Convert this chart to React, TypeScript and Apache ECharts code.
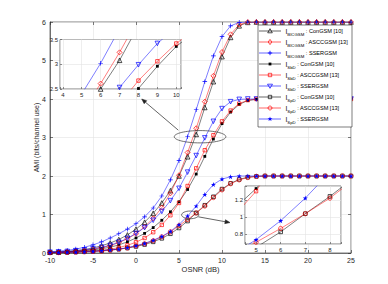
import React, { useEffect, useRef } from 'react';
import * as echarts from 'echarts';

const OSNR = [-10, -9, -8, -7, -6, -5, -4, -3, -2, -1, 0, 1, 2, 3, 4, 5, 6, 7, 8, 9, 10, 11, 12, 13, 14, 15, 16, 17, 18, 19, 20, 21, 22, 23, 24, 25];

// I_BICGSM
const BICGSM_CON = [0.02, 0.03, 0.04, 0.06, 0.09, 0.13, 0.19, 0.26, 0.35, 0.47, 0.62, 0.8, 1.03, 1.3, 1.62, 2.0, 2.5, 3.08, 3.78, 4.45, 5.1, 5.6, 5.9, 5.99, 6, 6, 6, 6, 6, 6, 6, 6, 6, 6, 6, 6];
const BICGSM_ASC = [0.01, 0.02, 0.03, 0.05, 0.07, 0.1, 0.14, 0.19, 0.27, 0.37, 0.5, 0.68, 0.9, 1.18, 1.55, 2.02, 2.61, 3.24, 3.93, 4.6, 5.22, 5.68, 5.93, 6, 6, 6, 6, 6, 6, 6, 6, 6, 6, 6, 6, 6];
const BICGSM_SSE = [0.03, 0.05, 0.07, 0.1, 0.15, 0.21, 0.29, 0.39, 0.5, 0.62, 0.76, 0.94, 1.17, 1.48, 1.9, 2.4, 3.02, 3.72, 4.45, 5.12, 5.62, 5.9, 5.99, 6, 6, 6, 6, 6, 6, 6, 6, 6, 6, 6, 6, 6];
// I_SbD
const SBD_CON = [0.01, 0.02, 0.03, 0.04, 0.06, 0.08, 0.11, 0.15, 0.21, 0.29, 0.39, 0.51, 0.66, 0.85, 1.07, 1.33, 1.65, 2.05, 2.51, 2.96, 3.36, 3.66, 3.86, 3.96, 3.99, 4, 4, 4, 4, 4, 4, 4, 4, 4, 4, 4];
const SBD_ASC = [0.01, 0.01, 0.02, 0.03, 0.04, 0.05, 0.07, 0.1, 0.14, 0.2, 0.28, 0.39, 0.54, 0.73, 0.98, 1.3, 1.74, 2.2, 2.67, 3.06, 3.42, 3.7, 3.88, 3.97, 4, 4, 4, 4, 4, 4, 4, 4, 4, 4, 4, 4];
const SBD_SSE = [0.02, 0.03, 0.04, 0.06, 0.08, 0.11, 0.15, 0.2, 0.28, 0.38, 0.51, 0.66, 0.85, 1.08, 1.36, 1.68, 2.1, 2.53, 2.99, 3.42, 3.75, 3.93, 3.99, 4, 4, 4, 4, 4, 4, 4, 4, 4, 4, 4, 4, 4];
// I_SpD
const SPD_CON = [0.01, 0.01, 0.02, 0.03, 0.04, 0.05, 0.06, 0.08, 0.1, 0.13, 0.17, 0.22, 0.29, 0.38, 0.5, 0.65, 0.83, 1.04, 1.24, 1.46, 1.66, 1.81, 1.91, 1.97, 1.99, 2, 2, 2, 2, 2, 2, 2, 2, 2, 2, 2];
const SPD_ASC = [0.01, 0.01, 0.02, 0.02, 0.03, 0.04, 0.05, 0.07, 0.1, 0.13, 0.18, 0.24, 0.32, 0.42, 0.55, 0.71, 0.87, 1.04, 1.22, 1.44, 1.64, 1.8, 1.9, 1.96, 1.99, 2, 2, 2, 2, 2, 2, 2, 2, 2, 2, 2];
const SPD_SSE = [0.01, 0.01, 0.02, 0.02, 0.03, 0.04, 0.06, 0.08, 0.1, 0.14, 0.19, 0.25, 0.33, 0.43, 0.56, 0.74, 0.96, 1.22, 1.52, 1.78, 1.92, 1.98, 2, 2, 2, 2, 2, 2, 2, 2, 2, 2, 2, 2, 2, 2];

const SUBS = ['BICGSM', 'BICGSM', 'BICGSM', 'SbD', 'SbD', 'SbD', 'SpD', 'SpD', 'SpD'];
const SCHEMES = ['ConGSM [10]', 'ASCCGSM [13]', 'SSERGSM', 'ConGSM [10]', 'ASCCGSM [13]', 'SSERGSM', 'ConGSM [10]', 'ASCCGSM [13]', 'SSERGSM'];
const SERIES_VALUES = [BICGSM_CON, BICGSM_ASC, BICGSM_SSE, SBD_CON, SBD_ASC, SBD_SSE, SPD_CON, SPD_ASC, SPD_SSE];

const X_TICKS = { min: -10, max: 25, interval: 5 };
const Y_TICKS = { min: 0, max: 6, interval: 1 };

const BLACK = '#000000';
const RED = '#ff0000';
const BLUE = '#0000ff';
const FONT = 'Liberation Sans, Arial, sans-serif';
const TXT = '#262626';
const CLEAR = 'rgba(255,255,255,0)';

const PLUS = 'path://M4.3,0 h1.4 v4.3 h4.3 v1.4 h-4.3 v4.3 h-1.4 v-4.3 h-4.3 v-1.4 h4.3 z';
const STAR = 'path://M5,0 L6.18,3.82 L10,3.82 L6.91,6.18 L8.09,10 L5,7.64 L1.91,10 L3.09,6.18 L0,3.82 L3.82,3.82 Z';

// fill: marker interior colour ('line' = same as line colour)
const STYLES = [
  { color: BLACK, symbol: 'triangle', size: 4.6, rotate: 0, filled: false, kind: 'tri' },
  { color: RED, symbol: 'diamond', size: 5, rotate: 0, filled: false, kind: 'diamond' },
  { color: BLUE, symbol: PLUS, size: 4.6, rotate: 0, filled: true, kind: 'plus' },
  { color: BLACK, symbol: 'rect', size: 2.8, rotate: 0, filled: true, kind: 'fillsq' },
  { color: RED, symbol: 'rect', size: 3.4, rotate: 0, filled: false, kind: 'sq' },
  { color: BLUE, symbol: 'triangle', size: 4.6, rotate: 180, filled: false, kind: 'tridown' },
  { color: BLACK, symbol: 'rect', size: 3.6, rotate: 0, filled: false, kind: 'sq' },
  { color: RED, symbol: 'circle', size: 4.2, rotate: 0, filled: false, kind: 'circle' },
  { color: BLUE, symbol: STAR, size: 5, rotate: 0, filled: true, kind: 'star' },
];

const names = SUBS.map((s, i) => `I_${s}: ${SCHEMES[i]}`);

function buildSeries(axisIndex: number, z: number) {
  return SERIES_VALUES.map((vals, i) => {
    const st = STYLES[i];
    return {
      type: 'line',
      name: names[i],
      xAxisIndex: axisIndex,
      yAxisIndex: axisIndex,
      data: OSNR.map((x, k) => [x, vals[k]]),
      symbol: st.symbol,
      symbolSize: st.size,
      symbolRotate: st.rotate,
      showAllSymbol: true,
      clip: true,
      z,
      silent: true,
      lineStyle: { color: st.color, width: 0.6, opacity: 0.85 },
      itemStyle: st.filled
        ? { color: st.color, borderWidth: 0 }
        : { color: CLEAR, borderColor: st.color, borderWidth: 0.7 },
      emphasis: { disabled: true },
    };
  });
}

const intFmt = (v: number) => (Math.abs(v - Math.round(v)) < 1e-6 ? String(Math.round(v)) : '');
const fifthFmt = (v: number) => (Math.abs(v * 5 - Math.round(v * 5)) < 1e-6 ? String(+v.toFixed(1)) : '');

const LZ = 20;

function legendMarker(kind: string, cx: number, cy: number, color: string): any[] {
  const stroke = { stroke: color, lineWidth: 0.7, fill: 'none' };
  const base = { z: LZ + 2, silent: true };
  switch (kind) {
    case 'tri':
      return [{ ...base, type: 'polygon', shape: { points: [[cx, cy - 2.3], [cx + 2.3, cy + 1.8], [cx - 2.3, cy + 1.8]] }, style: stroke }];
    case 'tridown':
      return [{ ...base, type: 'polygon', shape: { points: [[cx, cy + 2.3], [cx + 2.5, cy - 1.8], [cx - 2.5, cy - 1.8]] }, style: stroke }];
    case 'diamond':
      return [{ ...base, type: 'polygon', shape: { points: [[cx, cy - 2.6], [cx + 1.8, cy], [cx, cy + 2.6], [cx - 1.8, cy]] }, style: stroke }];
    case 'plus':
      return [
        { ...base, type: 'line', shape: { x1: cx - 2.2, y1: cy, x2: cx + 2.2, y2: cy }, style: { stroke: color, lineWidth: 0.9 } },
        { ...base, type: 'line', shape: { x1: cx, y1: cy - 2.2, x2: cx, y2: cy + 2.2 }, style: { stroke: color, lineWidth: 0.9 } },
      ];
    case 'fillsq':
      return [{ ...base, type: 'rect', shape: { x: cx - 1.4, y: cy - 1.4, width: 2.8, height: 2.8 }, style: { fill: color } }];
    case 'sq':
      return [{ ...base, type: 'rect', shape: { x: cx - 1.7, y: cy - 1.7, width: 3.4, height: 3.4 }, style: stroke }];
    case 'circle':
      return [{ ...base, type: 'circle', shape: { cx, cy, r: 2 }, style: stroke }];
    default: {
      const pts: number[][] = [];
      for (let k = 0; k < 10; k++) {
        const r = k % 2 === 0 ? 2.6 : 1.0;
        const a = -Math.PI / 2 + (k * Math.PI) / 5;
        pts.push([cx + r * Math.cos(a), cy + r * Math.sin(a)]);
      }
      return [{ ...base, type: 'polygon', shape: { points: pts }, style: { fill: color } }];
    }
  }
}

function buildLegend(): any[] {
  const left = 258, top = 25, w = 94, h = 102;
  const els: any[] = [
    { type: 'rect', z: LZ, silent: true, shape: { x: left, y: top, width: w, height: h }, style: { fill: '#fff', stroke: TXT, lineWidth: 0.6 } },
  ];
  SUBS.forEach((sub, i) => {
    const cy = 31 + i * 11;
    const color = STYLES[i].color;
    els.push({ type: 'line', z: LZ + 1, silent: true, shape: { x1: 259, y1: cy, x2: 281, y2: cy }, style: { stroke: color, lineWidth: 0.6 } });
    els.push(...legendMarker(STYLES[i].kind, 270, cy, color));
    els.push({
      type: 'text', z: LZ + 1, silent: true, x: 285.5, y: cy,
      style: {
        text: `{i|I}{s|${sub}}{t| : ${SCHEMES[i]}}`,
        verticalAlign: 'middle', align: 'left',
        rich: {
          i: { fontSize: 6.5, lineHeight: 11, verticalAlign: 'middle', fontFamily: FONT, fill: '#000' },
          s: { fontSize: 4.3, verticalAlign: 'bottom', fontFamily: FONT, fill: '#000' },
          t: { fontSize: 5.6, lineHeight: 11, verticalAlign: 'middle', fontFamily: FONT, fill: '#000' },
        },
      },
    });
  });
  return els;
}

export default function App() {
  const ref = useRef<HTMLDivElement>(null);
  useEffect(() => {
    const chart = echarts.init(ref.current!, null, { renderer: 'svg' });
    const axisLine = { show: true, onZero: false, lineStyle: { color: TXT, width: 0.6 } };
    const split = { show: true, lineStyle: { color: '#e3e3e3', width: 0.6 } };
    const noLine = { show: false, onZero: false };
    const option: any = {
      animation: false,
      backgroundColor: '#fff',
      textStyle: { fontFamily: FONT },
      grid: [
        { left: 50, top: 22, width: 301, height: 231, show: true, borderColor: TXT, borderWidth: 0.6, z: 0 },
        { left: 60, top: 39.5, width: 121, height: 49.5, show: true, backgroundColor: '#fff', borderColor: TXT, borderWidth: 0.6, z: 5 },
        { left: 245, top: 186, width: 96, height: 58, show: true, backgroundColor: '#fff', borderColor: TXT, borderWidth: 0.6, z: 5 },
      ],
      xAxis: [
        {
          type: 'value', gridIndex: 0, ...X_TICKS, axisLine, splitLine: split,
          axisTick: { inside: true, length: 3, lineStyle: { color: TXT, width: 0.6 } },
          axisLabel: { fontSize: 7, color: TXT, margin: 4, fontFamily: FONT },
          name: 'OSNR (dB)', nameLocation: 'middle', nameGap: 12, nameMoveOverlap: false,
          nameTextStyle: { fontSize: 7.5, color: TXT, fontFamily: FONT, verticalAlign: 'top' },
        },
        { type: 'value', gridIndex: 1, min: 3.85, max: 10.25, minInterval: 1, maxInterval: 1, z: 6,
          axisLine: noLine, splitLine: split,
          axisTick: { inside: true, length: 2, lineStyle: { color: TXT, width: 0.5 } },
          axisLabel: { fontSize: 6, color: TXT, margin: 3, formatter: intFmt, fontFamily: FONT } },
        { type: 'value', gridIndex: 2, min: 4.55, max: 8.45, minInterval: 1, maxInterval: 1, z: 6,
          axisLine: noLine, splitLine: split,
          axisTick: { inside: true, length: 2, lineStyle: { color: TXT, width: 0.5 } },
          axisLabel: { fontSize: 6, color: TXT, margin: 3, formatter: intFmt, fontFamily: FONT } },
        { type: 'value', gridIndex: 0, position: 'top', ...X_TICKS, axisLine: noLine, splitLine: { show: false },
          axisTick: { inside: true, length: 3, lineStyle: { color: TXT, width: 0.6 } }, axisLabel: { show: false } },
      ],
      yAxis: [
        {
          type: 'value', gridIndex: 0, ...Y_TICKS, axisLine, splitLine: split,
          axisTick: { show: true, inside: true, length: 3, lineStyle: { color: TXT, width: 0.6 } },
          axisLabel: { fontSize: 7, color: TXT, margin: 4, fontFamily: FONT },
          name: 'AMI (bits/channel use)', nameLocation: 'middle', nameGap: 10, nameMoveOverlap: false,
          nameTextStyle: { fontSize: 7, color: TXT, fontFamily: FONT },
        },
        { type: 'value', gridIndex: 1, min: 2.5, max: 3.5, interval: 0.5, z: 6,
          axisLine: noLine, splitLine: split,
          axisTick: { show: true, inside: true, length: 2, lineStyle: { color: TXT, width: 0.5 } },
          axisLabel: { fontSize: 6, color: TXT, margin: 2, fontFamily: FONT } },
        { type: 'value', gridIndex: 2, min: 0.69, max: 1.36, minInterval: 0.2, maxInterval: 0.2, z: 6,
          axisLine: noLine, splitLine: split,
          axisTick: { show: true, inside: true, length: 2, lineStyle: { color: TXT, width: 0.5 } },
          axisLabel: { fontSize: 6, color: TXT, margin: 2, formatter: fifthFmt, fontFamily: FONT } },
        { type: 'value', gridIndex: 0, position: 'right', ...Y_TICKS, axisLine: noLine, splitLine: { show: false },
          axisTick: { show: true, inside: true, length: 3, lineStyle: { color: TXT, width: 0.6 } }, axisLabel: { show: false } },
      ],
      series: [...buildSeries(0, 2), ...buildSeries(1, 7), ...buildSeries(2, 7)],
    };
    chart.setOption(option);

    const P = (x: number, y: number) => chart.convertToPixel({ gridIndex: 0 }, [x, y]) as number[];
    const ell = (cx: number, cy: number, rx: number, ry: number) => {
      const c = P(cx, cy);
      const e = P(cx + rx, cy + ry);
      return {
        type: 'ellipse', z: 8, silent: true,
        shape: { cx: c[0], cy: c[1], rx: Math.abs(e[0] - c[0]), ry: Math.abs(c[1] - e[1]) },
        style: { fill: 'none', stroke: '#333', lineWidth: 0.7 },
      };
    };
    const arrow = (x1: number, y1: number, x2: number, y2: number) => {
      const a = P(x1, y1);
      const b = P(x2, y2);
      const dx = b[0] - a[0];
      const dy = b[1] - a[1];
      const L = Math.hypot(dx, dy);
      const ux = dx / L, uy = dy / L;
      const hl = 5, hw = 2;
      const bx = b[0] - ux * hl, by = b[1] - uy * hl;
      return [
        { type: 'line', z: 8, silent: true, shape: { x1: a[0], y1: a[1], x2: bx, y2: by }, style: { stroke: '#222', lineWidth: 0.7 } },
        { type: 'polygon', z: 8, silent: true,
          shape: { points: [[b[0], b[1]], [bx - uy * hw, by + ux * hw], [bx + uy * hw, by - ux * hw]] },
          style: { fill: '#222', stroke: '#222', lineWidth: 0.5 } },
      ];
    };
    chart.setOption({
      graphic: [
        ell(7.45, 3.02, 3.0, 0.16),
        ell(6.3, 0.99, 1.0, 0.1),
        ...arrow(4.92, 3.19, 0.66, 4.0),
        ...arrow(7.24, 0.94, 10.93, 0.79),
        ...buildLegend(),
      ],
    });
    return () => chart.dispose();
  }, []);
  return <div ref={ref} style={{ width: 388, height: 284, position: 'absolute', left: 0, top: 0 }} />;
}
